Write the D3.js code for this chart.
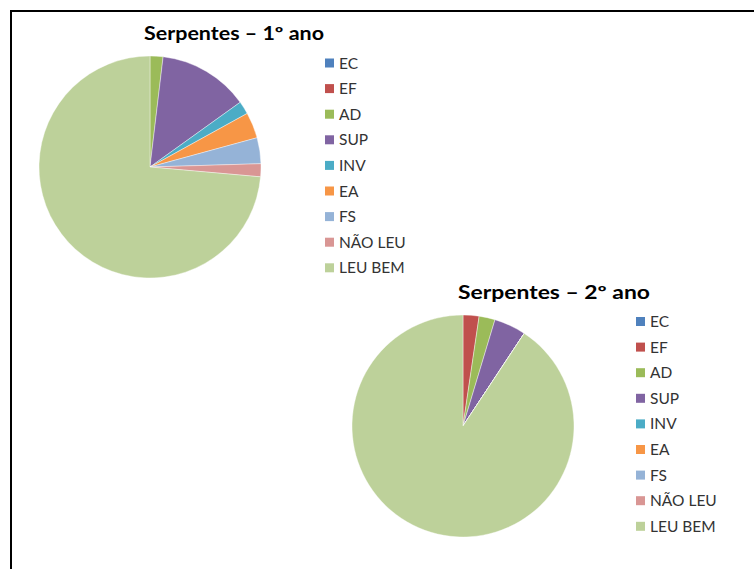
<!DOCTYPE html>
<html>
<head>
<meta charset="utf-8">
<script src="https://cdn.jsdelivr.net/npm/d3@7"></script>
<style>
  html, body { margin: 0; padding: 0; background: #fff; }
  svg { display: block; }
</style>
</head>
<body>
<svg id="chart" width="754" height="569"></svg>
<script>
// ---- data ----
const categories = ["EC", "EF", "AD", "SUP", "INV", "EA", "FS", "NÃO LEU", "LEU BEM"];
const colors = ["#4F81BD", "#C0504D", "#9BBB59", "#8064A2", "#4BACC6", "#F79646", "#95B3D7", "#D99694", "#BDD19A"];
const values1 = [0, 0, 1, 7, 1, 2, 2, 1, 39];   // Serpentes – 1º ano
const values2 = [0, 1, 1, 2, 0, 0, 0, 0, 39];   // Serpentes – 2º ano
const title1 = "Serpentes – 1º ano";
const title2 = "Serpentes – 2º ano";

const svg = d3.select("#chart");

// frame
svg.append("path")
  .attr("d", "M11,569 L11,11 L754,11")
  .attr("fill", "none").attr("stroke", "#000").attr("stroke-width", 2);

const color = d3.scaleOrdinal().domain(categories).range(colors);
const pie = d3.pie().sort(null).value(d => d.v);

function drawPie(cfg) {
  const g = svg.append("g");
  const data = categories.map((c, i) => ({ c, v: cfg.values[i] }));
  const arc = d3.arc().innerRadius(0).outerRadius(cfg.r);
  g.append("g").attr("transform", `translate(${cfg.cx},${cfg.cy})`)
    .selectAll("path").data(pie(data)).join("path")
    .attr("d", arc)
    .attr("fill", d => color(d.data.c))
    .attr("stroke", "#fff").attr("stroke-width", 0.4);

  g.append("text")
    .attr("x", cfg.tx).attr("y", cfg.ty)
    .attr("text-anchor", "middle")
    .attr("font-family", "Lato, 'Open Sans', sans-serif")
    .attr("font-weight", "bold")
    .attr("font-size", 18)
    .attr("fill", "#000")
    .attr("textLength", cfg.tw).attr("lengthAdjust", "spacingAndGlyphs")
    .text(cfg.title);

  const leg = g.append("g").selectAll("g").data(categories).join("g")
    .attr("transform", (d, i) => `translate(${cfg.lx},${cfg.ly + i * cfg.ls})`);
  leg.append("rect").attr("x", 0).attr("y", -4.5).attr("width", 9).attr("height", 9)
    .attr("fill", d => color(d));
  leg.append("text").attr("x", 14).attr("y", 0).attr("dy", "0.36em")
    .attr("font-family", "Lato, 'Open Sans', sans-serif")
    .attr("font-size", 15.5).attr("fill", "#333")
    .text(d => d);
}

drawPie({ values: values1, cx: 150, cy: 167, r: 111, title: title1, tx: 234, ty: 40, tw: 180,
          lx: 325, ly: 63, ls: 25.6 });
drawPie({ values: values2, cx: 463, cy: 426, r: 111, title: title2, tx: 554, ty: 299, tw: 192,
          lx: 636, ly: 321.5, ls: 25.6 });
</script>
</body>
</html>
